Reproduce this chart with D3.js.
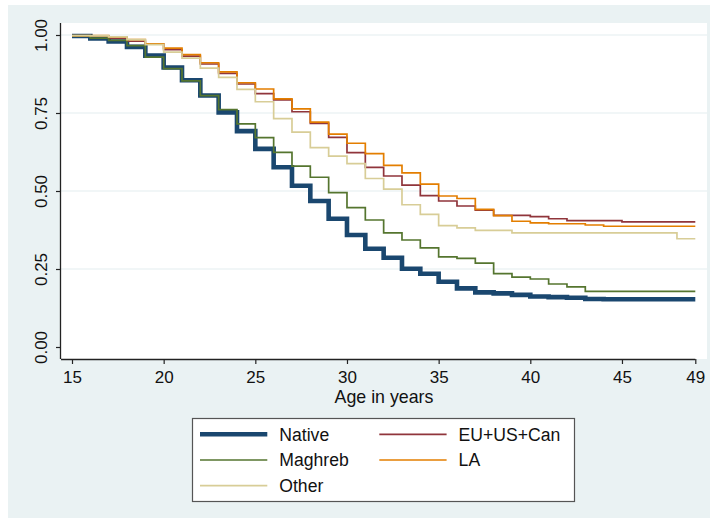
<!DOCTYPE html>
<html>
<head>
<meta charset="utf-8">
<script src="https://cdn.jsdelivr.net/npm/d3@7"></script>
<style>
  body { margin: 0; background: #fff; }
  svg text { font-family: "Liberation Sans", Arial, sans-serif; fill: #111; }
</style>
</head>
<body>
<div id="chart"></div>
<script>
////////////////////////////////////////////////////////////
//////////////////////// Data //////////////////////////////
////////////////////////////////////////////////////////////

// ages at which the survival steps happen (15 ... 49)
var ages = d3.range(15, 50);

// survival share at each age (value holds until the next age)
var native = [0.997, 0.989, 0.979, 0.962, 0.934, 0.896, 0.855, 0.806, 0.752, 0.692,
  0.635, 0.576, 0.517, 0.468, 0.411, 0.359, 0.315, 0.286, 0.251, 0.235,
  0.209, 0.188, 0.175, 0.172, 0.167, 0.162, 0.160, 0.158, 0.154, 0.153,
  0.153, 0.153, 0.153, 0.153, 0.153];
var euUsCan = [0.997, 0.996, 0.990, 0.980, 0.971, 0.953, 0.932, 0.907, 0.877, 0.843,
  0.812, 0.792, 0.754, 0.717, 0.672, 0.623, 0.576, 0.548, 0.519, 0.485,
  0.468, 0.452, 0.439, 0.422, 0.422, 0.418, 0.411, 0.405, 0.405, 0.405,
  0.401, 0.401, 0.401, 0.401, 0.401];
var maghreb = [0.997, 0.990, 0.983, 0.966, 0.929, 0.892, 0.853, 0.806, 0.761, 0.715,
  0.671, 0.624, 0.580, 0.544, 0.495, 0.447, 0.407, 0.366, 0.343, 0.318,
  0.289, 0.284, 0.269, 0.235, 0.224, 0.218, 0.202, 0.193, 0.178, 0.178,
  0.178, 0.178, 0.178, 0.178, 0.178];
var la = [0.998, 0.998, 0.993, 0.985, 0.972, 0.958, 0.937, 0.911, 0.882, 0.847,
  0.827, 0.795, 0.763, 0.721, 0.682, 0.653, 0.620, 0.582, 0.558, 0.522,
  0.484, 0.476, 0.441, 0.421, 0.403, 0.398, 0.395, 0.395, 0.391, 0.387,
  0.387, 0.387, 0.387, 0.387, 0.387];
var other = [0.998, 0.997, 0.994, 0.985, 0.969, 0.945, 0.926, 0.894, 0.864, 0.826,
  0.786, 0.732, 0.689, 0.639, 0.612, 0.588, 0.540, 0.506, 0.456, 0.425,
  0.389, 0.382, 0.374, 0.374, 0.366, 0.366, 0.366, 0.366, 0.366, 0.366,
  0.366, 0.366, 0.366, 0.347, 0.347];

var seriesNames = ["Native", "EU+US+Can", "Maghreb", "LA", "Other"];
var seriesValues = [native, euUsCan, maghreb, la, other];
var seriesColors = ["#1a476f", "#90353b", "#55752f", "#e37e00", "#d8cd97"];
var seriesWidths = [4.6, 1.7, 1.7, 1.7, 1.7];

var xTicks = [15, 20, 25, 30, 35, 40, 45, 49];
var yTicks = [0, 0.25, 0.5, 0.75, 1];

////////////////////////////////////////////////////////////
//////////////////////// Set-Up ////////////////////////////
////////////////////////////////////////////////////////////

var width = 710, height = 518;
var plot = {left: 61, top: 23, right: 707, bottom: 359};

var svg = d3.select("#chart").append("svg")
  .attr("width", width)
  .attr("height", height);

// graph region (Stata-style bluish gray) and white plot region
svg.append("rect")
  .attr("x", 8).attr("y", 5)
  .attr("width", width - 8).attr("height", height - 5)
  .attr("fill", "#eaf2f3");
svg.append("rect")
  .attr("x", plot.left).attr("y", plot.top)
  .attr("width", plot.right - plot.left).attr("height", plot.bottom - plot.top)
  .attr("fill", "#fff");

var x = d3.scaleLinear().domain([15, 49]).range([72, 695.3]);
var y = d3.scaleLinear().domain([0, 1]).range([347, 35]);

// gridlines
svg.append("g").selectAll("line")
  .data(yTicks.filter(function(d) { return d > 0; }))
  .enter().append("line")
  .attr("x1", plot.left).attr("x2", plot.right)
  .attr("y1", function(d) { return y(d); })
  .attr("y2", function(d) { return y(d); })
  .attr("stroke", "#e4eef0")
  .attr("stroke-width", 1.2);

////////////////////////////////////////////////////////////
//////////////////////// Axes //////////////////////////////
////////////////////////////////////////////////////////////

var xAxis = svg.append("g")
  .attr("transform", "translate(0," + plot.bottom + ")")
  .call(d3.axisBottom(x).tickValues(xTicks).tickSize(5).tickPadding(7).tickFormat(d3.format("d")));
xAxis.select(".domain").attr("d", "M" + plot.left + ",0.5H" + x(49));

var yAxis = svg.append("g")
  .attr("transform", "translate(" + plot.left + ",0)")
  .call(d3.axisLeft(y).tickValues(yTicks).tickSize(5).tickFormat(d3.format(".2f")));
yAxis.select(".domain").attr("d", "M-0.5," + plot.top + "V" + plot.bottom);

svg.selectAll(".domain").attr("stroke", "#222").attr("stroke-width", 1.3);
svg.selectAll(".tick line").attr("stroke", "#222").attr("stroke-width", 1.2);
svg.selectAll(".tick text").style("font-size", "17px").attr("fill", "#111");

// vertical y labels like Stata
yAxis.selectAll(".tick text")
  .attr("x", null).attr("dy", null)
  .attr("text-anchor", "middle")
  .attr("transform", "translate(-14,0) rotate(-90)");

svg.append("text")
  .attr("x", (plot.left + plot.right) / 2)
  .attr("y", 403)
  .attr("text-anchor", "middle")
  .style("font-size", "17.8px")
  .text("Age in years");

////////////////////////////////////////////////////////////
//////////////////////// Lines /////////////////////////////
////////////////////////////////////////////////////////////

var line = d3.line()
  .x(function(d, i) { return x(ages[i]); })
  .y(function(d) { return y(d); })
  .curve(d3.curveStepAfter);

svg.append("g").selectAll("path")
  .data(seriesValues)
  .enter().append("path")
  .attr("d", line)
  .attr("fill", "none")
  .attr("stroke", function(d, i) { return seriesColors[i]; })
  .attr("stroke-width", function(d, i) { return seriesWidths[i]; })
  .attr("stroke-linejoin", "miter");

////////////////////////////////////////////////////////////
//////////////////////// Legend ////////////////////////////
////////////////////////////////////////////////////////////

var legend = svg.append("g");
legend.append("rect")
  .attr("x", 192.5).attr("y", 418.5)
  .attr("width", 382).attr("height", 83)
  .attr("fill", "#fff")
  .attr("stroke", "#555")
  .attr("stroke-width", 1.2);

var items = legend.selectAll("g.item")
  .data(seriesNames)
  .enter().append("g")
  .attr("class", "item")
  .attr("transform", function(d, i) {
    var col = i % 2, row = Math.floor(i / 2);
    return "translate(" + (200 + col * 179.3) + "," + (434.3 + row * 25.7) + ")";
  });

items.append("line")
  .attr("x1", 0).attr("x2", 67.3)
  .attr("y1", 0).attr("y2", 0)
  .attr("stroke", function(d, i) { return seriesColors[i]; })
  .attr("stroke-width", function(d, i) { return seriesWidths[i]; });

items.append("text")
  .attr("x", 79.3)
  .attr("y", 6.3)
  .style("font-size", "17.6px")
  .text(function(d) { return d; });
</script>
</body>
</html>
